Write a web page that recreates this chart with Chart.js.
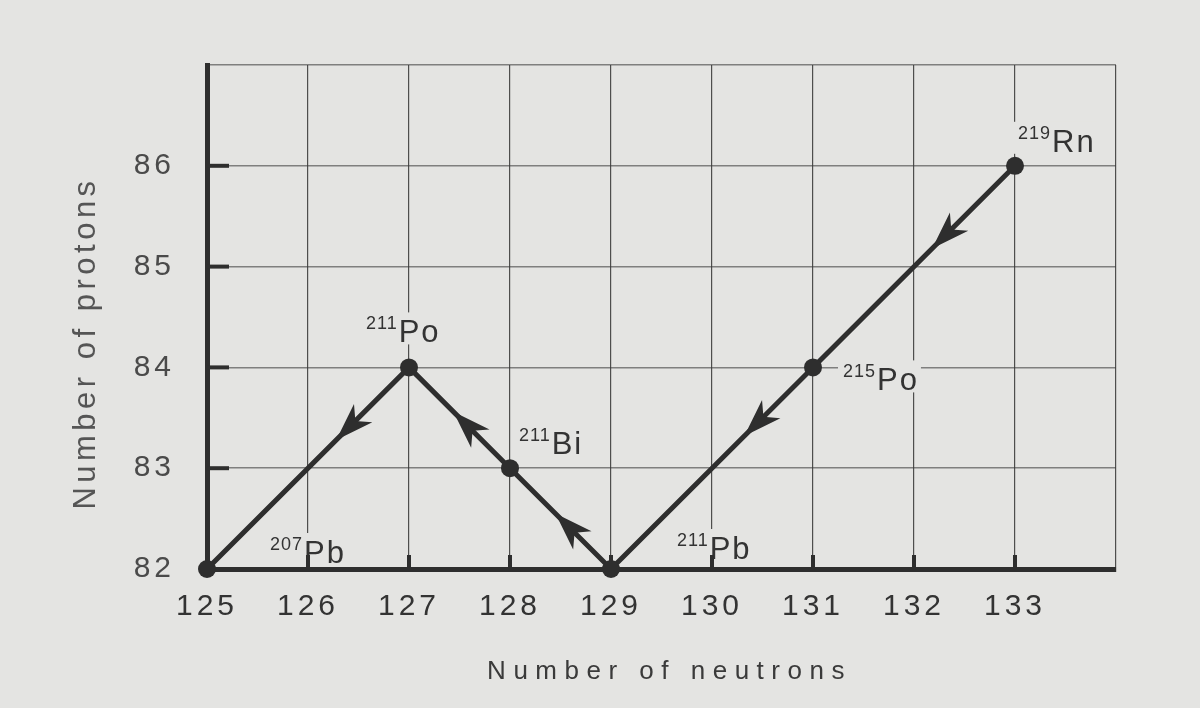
<!DOCTYPE html>
<html>
<head>
<meta charset="utf-8">
<script src="https://cdn.jsdelivr.net/npm/chart.js@4.4.1/dist/chart.umd.min.js"></script>
<style>
  html, body { margin: 0; padding: 0; background: #e4e4e2; }
  #wrap { width: 1200px; height: 708px; }
</style>
</head>
<body>
<div id="wrap"><canvas id="grafico" width="1200" height="708"></canvas></div>
<script>
// cadeia de decaimento 219Rn -> 207Pb, na ordem em que a linha e desenhada
const neutrons = [133, 131, 129, 128, 127, 125];
const protons = [86, 84, 82, 83, 84, 82];
const massNumbers = ['219', '215', '211', '211', '211', '207'];
const symbols = ['Rn', 'Po', 'Pb', 'Bi', 'Po', 'Pb'];
const neutronTicks = [125, 126, 127, 128, 129, 130, 131, 132, 133];
const protonTicks = [82, 83, 84, 85, 86];

const ink = '#2e2e2e';
const paper = '#e4e4e2';
const fonte = '"Liberation Sans", Arial, sans-serif';

// espacamento de letras (a foto tem letras bem abertas)
const spacingPlugin = {
  id: 'spacing',
  beforeDraw(chart) {
    chart.ctx.letterSpacing = '4px';
  }
};

// rotulos dos nuclideos com numero de massa sobrescrito
const labelPlugin = {
  id: 'nuclideLabels',
  beforeDatasetsDraw(chart, args, opts) {
    const { ctx, scales: { x, y } } = chart;
    ctx.save();
    ctx.textBaseline = 'alphabetic';
    ctx.textAlign = 'left';
    neutrons.forEach((n, i) => {
      const px = x.getPixelForValue(n);
      const py = y.getPixelForValue(protons[i]);
      const lx = px + opts.offsets[i][0];
      const by = py + opts.offsets[i][1];

      ctx.letterSpacing = '1px';
      ctx.font = '18px ' + fonte;
      const wm = ctx.measureText(massNumbers[i]).width;
      ctx.letterSpacing = '2px';
      ctx.font = '31px ' + fonte;
      const ws = ctx.measureText(symbols[i]).width;

      ctx.fillStyle = paper;
      ctx.fillRect(lx - 5, by - 30, wm + ws + 8, 32);

      ctx.fillStyle = '#333';
      ctx.letterSpacing = '1px';
      ctx.font = '18px ' + fonte;
      ctx.fillText(massNumbers[i], lx, by - 13);
      ctx.letterSpacing = '2px';
      ctx.font = '31px ' + fonte;
      ctx.fillText(symbols[i], lx + wm + 1, by);
    });
    ctx.restore();
  }
};

// marcas curtas para dentro dos eixos + setas sobre os segmentos
const arrowPlugin = {
  id: 'decayArrows',
  afterDatasetsDraw(chart, args, opts) {
    const { ctx, chartArea, scales: { x, y } } = chart;
    ctx.save();
    ctx.strokeStyle = ink;
    ctx.lineWidth = 4;
    protonTicks.slice(1).forEach(v => {
      const py = y.getPixelForValue(v);
      ctx.beginPath();
      ctx.moveTo(chartArea.left, py);
      ctx.lineTo(chartArea.left + 22, py);
      ctx.stroke();
    });
    neutronTicks.slice(1).forEach(v => {
      const px = x.getPixelForValue(v);
      ctx.beginPath();
      ctx.moveTo(px, chartArea.bottom);
      ctx.lineTo(px, chartArea.bottom - 14);
      ctx.stroke();
    });

    ctx.fillStyle = ink;
    for (let i = 0; i < neutrons.length - 1; i++) {
      const x0 = x.getPixelForValue(neutrons[i]);
      const y0 = y.getPixelForValue(protons[i]);
      const x1 = x.getPixelForValue(neutrons[i + 1]);
      const y1 = y.getPixelForValue(protons[i + 1]);
      const t = opts.at[i];
      ctx.save();
      ctx.translate(x0 + (x1 - x0) * t, y0 + (y1 - y0) * t);
      ctx.rotate(Math.atan2(y1 - y0, x1 - x0));
      ctx.beginPath();
      ctx.moveTo(0, 0);
      ctx.lineTo(-38, -13);
      ctx.lineTo(-27, 0);
      ctx.lineTo(-38, 13);
      ctx.closePath();
      ctx.fill();
      ctx.restore();
    }
    ctx.restore();
  }
};

// titulos dos eixos
const titlePlugin = {
  id: 'axisTitles',
  afterDraw(chart) {
    const { ctx, chartArea } = chart;
    ctx.save();
    ctx.textAlign = 'center';
    ctx.textBaseline = 'middle';
    ctx.fillStyle = '#3a3a3a';
    ctx.font = '26px ' + fonte;
    ctx.letterSpacing = '7.5px';
    ctx.fillText('Number of neutrons', (chartArea.left + chartArea.right) / 2 + 8, 672);

    ctx.translate(86, 343);
    ctx.rotate(-Math.PI / 2);
    ctx.fillStyle = '#555';
    ctx.font = '31px ' + fonte;
    ctx.letterSpacing = '4.5px';
    ctx.fillText('Number of protons', 0, 0);
    ctx.restore();
  }
};

const ctx = document.getElementById('grafico').getContext('2d');

new Chart(ctx, {
  type: 'scatter',
  data: {
    datasets: [{
      data: neutrons.map((n, i) => ({ x: n, y: protons[i] })),
      showLine: true,
      borderColor: ink,
      borderWidth: 5,
      pointRadius: 9,
      pointBackgroundColor: ink,
      pointBorderWidth: 0,
      clip: false
    }]
  },
  options: {
    responsive: false,
    animation: false,
    layout: { padding: { top: 65, right: 84, left: 0, bottom: 0 } },
    plugins: {
      legend: { display: false },
      tooltip: { enabled: false },
      nuclideLabels: {
        offsets: [[3, -14], [30, 23], [66, -10], [9, -14], [-43, -25], [63, -6]]
      },
      decayArrows: { at: [0.41, 0.34, 0.55, 0.56, 0.36] }
    },
    scales: {
      x: {
        type: 'linear',
        min: 125,
        max: 134,
        afterFit: s => { s.height = 139; },
        border: { color: ink, width: 5 },
        grid: { color: 'rgba(40,40,40,0.8)', lineWidth: 1.2, drawTicks: false },
        ticks: {
          stepSize: 1,
          autoSkip: false,
          maxRotation: 0,
          padding: 20,
          color: '#333',
          font: { family: fonte, size: 30 },
          callback: v => neutronTicks.includes(v) ? String(v) : ''
        }
      },
      y: {
        min: 82,
        max: 87,
        afterFit: s => { s.width = 207; },
        border: { color: ink, width: 5 },
        grid: { color: 'rgba(60,60,60,0.6)', lineWidth: 1.5, drawTicks: false },
        ticks: {
          stepSize: 1,
          padding: 32,
          color: '#4a4a4a',
          font: { family: fonte, size: 30 },
          callback: v => protonTicks.includes(v) ? String(v) : ''
        }
      }
    }
  },
  plugins: [spacingPlugin, labelPlugin, arrowPlugin, titlePlugin]
});
</script>
</body>
</html>
